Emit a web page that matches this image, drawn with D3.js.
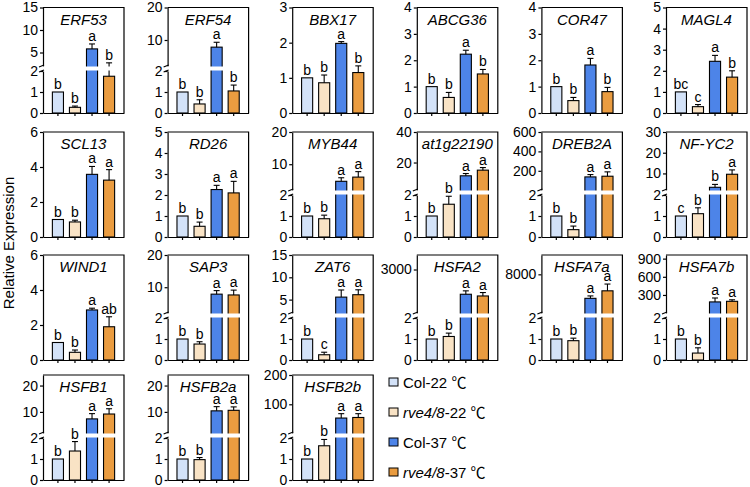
<!DOCTYPE html>
<html><head><meta charset="utf-8">
<script src="https://cdn.jsdelivr.net/npm/d3@7"></script>
<style>body{margin:0;background:#fff}text{font-family:"Liberation Sans",Arial,sans-serif}</style>
</head><body><script>
const genes = ["ERF53","ERF54","BBX17","ABCG36","COR47","MAGL4","SCL13","RD26","MYB44","at1g22190","DREB2A","NF-YC2","WIND1","SAP3","ZAT6","HSFA2","HSFA7a","HSFA7b","HSFB1","HSFB2a","HSFB2b"];
const groups = ["Col-22 ℃","rve4/8-22 ℃","Col-37 ℃","rve4/8-37 ℃"];
const meanCol22 = [1,1,1,1,1,1,1,1,1,1,1,1,1,1,1,1,1,1,1,1,1];
const meanRve22 = [0.27,0.43,0.86,0.59,0.47,0.30,0.86,0.51,0.87,1.56,0.35,1.11,0.44,0.76,0.25,1.12,0.92,0.33,1.38,0.97,1.63];
const meanCol37 = [5.8,7.8,1.98,2.23,1.82,2.45,3.58,2.26,4.7,11.3,137,3.3,2.86,7.85,5.56,1294,3035,185,7.35,10.4,53];
const meanRve37 = [1.75,1.05,1.15,1.48,0.81,1.7,3.25,2.1,6.0,15,144,9.6,1.9,7.6,6.1,1176,4590,195,9.2,10.6,55];
const errCol22 = [0,0,0,0,0,0,0,0,0,0,0,0,0,0,0,0,0,0,0,0,0];
const errRve22 = [0.06,0.2,0.22,0.19,0.12,0.1,0.1,0.2,0.17,0.38,0.17,0.28,0.13,0.11,0.12,0.16,0.12,0.25,0.45,0.1,0.3];
const errCol37 = [1.1,1.5,0.05,0.15,0.25,0.28,0.45,0.2,1.1,1.5,24,1.4,0.1,1.1,1.6,235,500,65,2,1.6,15];
const errRve37 = [0.95,0.28,0.19,0.17,0.16,0.3,0.6,0.55,1.7,1.7,45,2.1,0.57,1.5,1.1,236,1400,25,2,1.3,13];
const letCol22 = ["b","b","b","b","b","bc","b","b","b","b","b","c","b","b","b","b","b","b","b","b","b"];
const letRve22 = ["b","b","b","b","b","c","b","b","b","b","b","b","b","b","c","b","b","b","b","b","b"];
const letCol37 = ["a","a","a","a","a","a","a","a","a","a","a","b","a","a","a","a","a","a","a","a","a"];
const letRve37 = ["b","b","b","b","b","b","a","a","a","a","a","a","ab","a","a","a","a","a","a","a","a"];
const broken = [1,1,0,0,0,0,0,0,1,1,1,1,0,1,1,1,1,1,1,1,1];
const axisMax = [15,20,3,4,4,5,6,5,20,40,600,30,6,20,15,4000,12000,960,24,24,200];
const yTicks = [[5,10,15],[10,20],[0,1,2,3],[0,1,2,3,4],[0,1,2,3,4],[0,1,2,3,4,5],[0,2,4,6],[0,1,2,3,4,5],[10,20],[20,40],[200,400,600],[10,20,30],[0,2,4,6],[10,20],[5,10,15],[3000],[8000],[300,600,900],[10,20],[10,20],[100,200]];
const colors = ["#d3e2f8","#f9e3c5","#4d84e8","#ea9c40"];

const svg = d3.select("body").append("svg").attr("width",750).attr("height",487);
const rowTop = [7.5,132,255,375];
const rowBottom = [113,237,360,480];
const W = 81;

function styleAxis(g){
  g.selectAll("path,line").attr("stroke","#000").attr("stroke-width",1.2);
  g.selectAll("text").attr("font-size",14).attr("fill","#000").attr("font-family","Liberation Sans, Arial, sans-serif");
}

genes.forEach((gene,i)=>{
  const r = Math.floor(i/6), c = i%6;
  const x0 = 43 + c*124.6, T = rowTop[r], B = rowBottom[r];
  const vals = [meanCol22[i],meanRve22[i],meanCol37[i],meanRve37[i]];
  const errs = [errCol22[i],errRve22[i],errCol37[i],errRve37[i]];
  const lets = [letCol22[i],letRve22[i],letCol37[i],letRve37[i]];
  const x = d3.scaleBand().domain(groups).range([x0,x0+W]).paddingInner(0.35).paddingOuter(0.55);
  const gp = svg.append("g");
  let yv;
  if (broken[i]) {
    const yLow = d3.scaleLinear().domain([0,2]).range([B,B-42]);
    const yUp = d3.scaleLinear().domain([2,axisMax[i]]).range([B-47,T]);
    yv = v => v<=2 ? yLow(v) : yUp(v);
    gp.append("g").attr("transform",`translate(${x0},0)`)
      .call(d3.axisLeft(yLow).tickValues([0,1,2]).tickFormat(d3.format("d")).tickSize(3).tickSizeOuter(0).tickPadding(2)).call(styleAxis);
    gp.append("g").attr("transform",`translate(${x0},0)`)
      .call(d3.axisLeft(yUp).tickValues(yTicks[i]).tickFormat(d3.format("d")).tickSize(3).tickSizeOuter(0).tickPadding(2)).call(styleAxis);
  } else {
    const y = d3.scaleLinear().domain([0,axisMax[i]]).range([B,T]);
    yv = v => y(v);
    gp.append("g").attr("transform",`translate(${x0},0)`)
      .call(d3.axisLeft(y).tickValues(yTicks[i]).tickFormat(d3.format("d")).tickSize(3).tickSizeOuter(0).tickPadding(2)).call(styleAxis);
  }
  groups.forEach((gr,k)=>{
    const v = vals[k], e = errs[k];
    const bx = x(gr), bw = x.bandwidth(), cx = bx + bw/2;
    gp.append("rect").attr("x",bx).attr("y",yv(v)).attr("width",bw).attr("height",B-yv(v))
      .attr("fill",colors[k]).attr("stroke","#000").attr("stroke-width",1.1);
    if (e>0){
      gp.append("line").attr("x1",cx).attr("x2",cx).attr("y1",yv(v)).attr("y2",yv(v+e)).attr("stroke","#000").attr("stroke-width",1.1);
      gp.append("line").attr("x1",cx-3).attr("x2",cx+3).attr("y1",yv(v+e)).attr("y2",yv(v+e)).attr("stroke","#000").attr("stroke-width",1.1);
    }
  });
  if (broken[i]) {
    gp.append("rect").attr("x",x0+0.6).attr("y",B-46.5).attr("width",W-1.2).attr("height",4).attr("fill","#fff");
    gp.append("line").attr("x1",x0-4).attr("x2",x0+1).attr("y1",B-41).attr("y2",B-43).attr("stroke","#000").attr("stroke-width",1.1);
    gp.append("line").attr("x1",x0-4).attr("x2",x0+1).attr("y1",B-46).attr("y2",B-48).attr("stroke","#000").attr("stroke-width",1.1);
  }
  groups.forEach((gr,k)=>{
    const v = vals[k], e = errs[k];
    const cx = x(gr) + x.bandwidth()/2;
    gp.append("text").attr("x",cx).attr("y",yv(v+e)-3).attr("text-anchor","middle").attr("font-size",14).text(lets[k]);
  });
  gp.append("path").attr("d",`M${x0},${T}H${x0+W}V${B}`).attr("fill","none").attr("stroke","#000").attr("stroke-width",1.2);
  gp.append("g").attr("transform",`translate(0,${B})`)
    .call(d3.axisBottom(x).tickSize(3).tickSizeOuter(0).tickFormat(""))
    .call(g=>{g.selectAll("path,line").attr("stroke","#000").attr("stroke-width",1.2);});
  gp.append("text").attr("x",x0+W/2).attr("y",T+17).attr("text-anchor","middle")
    .attr("font-size",15).attr("font-style","italic").text(gene);
});

svg.append("text").attr("transform","translate(14,243) rotate(-90)").attr("text-anchor","middle")
  .attr("font-size",15).text("Relative Expression");

const legendY = [382,412,442,472];
groups.forEach((gr,k)=>{
  const g = svg.append("g").attr("transform",`translate(389,${legendY[k]})`);
  g.append("rect").attr("x",0).attr("y",-4).attr("width",9).attr("height",8).attr("fill",colors[k]).attr("stroke","#000").attr("stroke-width",1);
  const t = g.append("text").attr("x",14).attr("y",5.5).attr("font-size",15);
  const [name, rest] = gr.split("-");
  const [temp, unit] = rest.split(" ");
  t.append("tspan").attr("font-style", name.startsWith("rve") ? "italic" : "normal").text(name);
  t.append("tspan").text("-" + temp + " ");
  t.append("tspan").attr("font-family","Noto Sans CJK SC").text(unit);
});
</script></body></html>
